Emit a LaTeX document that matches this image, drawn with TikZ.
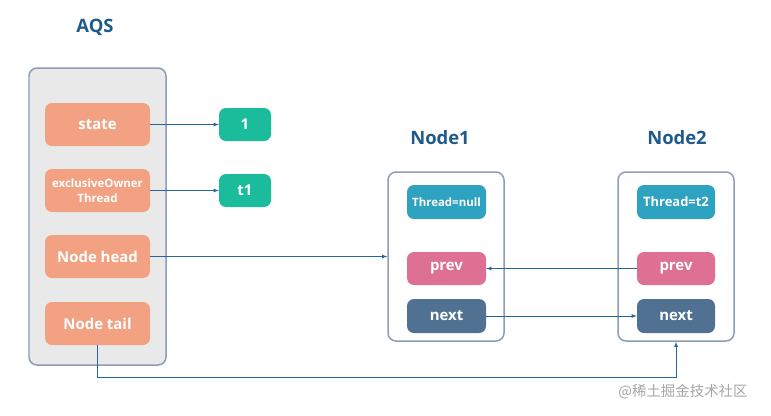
\documentclass[tikz,border=0pt]{standalone}
\usepackage{fontspec}
\setmainfont{Open Sans}
\newfontfamily\cjk{Noto Sans CJK SC}
\usepackage{xcolor}
\usetikzlibrary{arrows.meta}
\definecolor{titleblue}{HTML}{1F5A8C}
\definecolor{framegray}{HTML}{8D9DB5}
\definecolor{aqsfill}{HTML}{E9E9E9}
\definecolor{salmon}{HTML}{F2A283}
\definecolor{tealbox}{HTML}{1BBC9B}
\definecolor{cyanbox}{HTML}{2EA2C1}
\definecolor{pinkbox}{HTML}{DD7093}
\definecolor{slatebox}{HTML}{507191}
\definecolor{linkblue}{HTML}{2467A0}

\begin{document}
\begin{tikzpicture}[x=1bp,y=-1bp]
\tikzset{frame/.style={draw=framegray,line width=1.5pt,rounded corners=8bp},
         field/.style={rounded corners=7bp,text=white,inner sep=0pt,
                       font=\bfseries\fontsize{15}{17}\selectfont},
         title/.style={text=titleblue,font=\bfseries\fontsize{18.5}{20}\selectfont},
         link/.style={draw=linkblue,line width=0.8pt,-latex}}
\def\fw{105bp}\def\fh{43bp}
\useasboundingbox (0,0) rectangle (771,415);
% AQS
\node[title] (aqstitle) at (95,27) {AQS};
\node[frame,fill=aqsfill,minimum width=137bp,minimum height=297bp] (aqs) at (97.5,216.5) {};
\node[field,fill=salmon,minimum width=\fw,minimum height=\fh] (state) at (97.5,124.5) {state};
\node[field,fill=salmon,minimum width=\fw,minimum height=\fh,align=center,
      font=\bfseries\fontsize{11.5}{15}\selectfont] (owner) at (97.5,190.5) {exclusiveOwner\\Thread};
\node[field,fill=salmon,minimum width=\fw,minimum height=\fh] (head) at (97.5,256.5) {Node head};
\node[field,fill=salmon,minimum width=\fw,minimum height=\fh] (tail) at (97.5,323.5) {Node tail};
% values
\node[field,fill=tealbox,minimum width=52bp,minimum height=33bp] (one) at (245,124.5) {1};
\node[field,fill=tealbox,minimum width=52bp,minimum height=33bp] (tone) at (245,190.5) {t1};
% Node1
\node[title] (n1title) at (440,138) {Node1};
\node[frame,fill=white,minimum width=116bp,minimum height=169bp] (n1) at (446,256.5) {};
\node[field,fill=cyanbox,minimum width=79bp,minimum height=34bp,
      font=\bfseries\fontsize{11.5}{13}\selectfont] (thr1) at (446.5,202) {Thread=null};
\node[field,fill=pinkbox,minimum width=79bp,minimum height=33bp] (prev1) at (446.5,268.5) {prev};
\node[field,fill=slatebox,minimum width=79bp,minimum height=34bp] (next1) at (446.5,316) {next};
% Node2
\node[title] (n2title) at (677,138) {Node2};
\node[frame,fill=white,minimum width=116bp,minimum height=169bp] (n2) at (676,256.5) {};
\node[field,fill=cyanbox,minimum width=78bp,minimum height=34bp,
      font=\bfseries\fontsize{13}{15}\selectfont] (thr2) at (676,202) {Thread=t2};
\node[field,fill=pinkbox,minimum width=78bp,minimum height=33bp] (prev2) at (676,268.5) {prev};
\node[field,fill=slatebox,minimum width=78bp,minimum height=34bp] (next2) at (676,316) {next};
% links
\draw[link] (state.east) -- (one.west);
\draw[link] (owner.east) -- (tone.west);
\draw[link] (head.east) -- (head.east -| n1.west);
\draw[link] (prev2.west) -- (prev1.east);
\draw[link] (next1.east) -- (next2.west);
\draw[link] (tail.south) -- ++(0,32) -| (n2.south);
% watermark
\node[text=black!35,font=\cjk\fontsize{14.5}{16}\selectfont] (mark) at (683,392) {@稀土掘金技术社区};
\end{tikzpicture}
\end{document}
